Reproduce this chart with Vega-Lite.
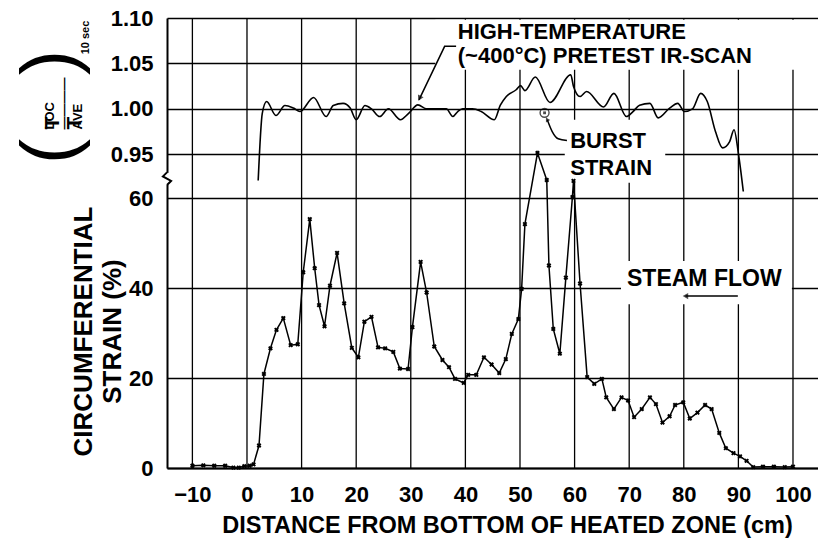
{
  "$schema": "https://vega.github.io/schema/vega-lite/v6.json",
  "width": 651,
  "height": 450,
  "autosize": {"type": "none"},
  "padding": {"left": 167, "top": 18, "right": 0, "bottom": 78},
  "background": "white",
  "config": {
    "view": {"stroke": null},
    "font": "Liberation Sans",
    "axis": {
      "labelFont": "Liberation Sans", "titleFont": "Liberation Sans",
      "labelColor": "black", "titleColor": "black",
      "labelFontWeight": "bold", "titleFontWeight": "bold",
      "gridColor": "black", "gridOpacity": 1, "domainColor": "black", "tickColor": "black"
    }
  },
  "datasets": {
    "vgrid": [
      {"x": -10}, {"x": 0}, {"x": 10}, {"x": 20}, {"x": 30}, {"x": 40},
      {"x": 50}, {"x": 60}, {"x": 70}, {"x": 80}, {"x": 90}, {"x": 100}
    ],
    "strain": [
      {"x": -10, "s": 0.5}, {"x": -8, "s": 0.6}, {"x": -6, "s": 0.5}, {"x": -4, "s": 0.5},
      {"x": -2.5, "s": 0.1}, {"x": -1.5, "s": 0.1}, {"x": -0.5, "s": 0.4}, {"x": 0.5, "s": 0.5},
      {"x": 1.2, "s": 0.8}, {"x": 2.2, "s": 5.0}, {"x": 3.1, "s": 20.9}, {"x": 4.3, "s": 26.6},
      {"x": 5.4, "s": 30.7}, {"x": 6.65, "s": 33.3}, {"x": 8.0, "s": 27.3}, {"x": 9.3, "s": 27.5},
      {"x": 10.3, "s": 43.5}, {"x": 11.5, "s": 55.3}, {"x": 12.4, "s": 44.4}, {"x": 13.2, "s": 36.2},
      {"x": 14.2, "s": 31.5}, {"x": 15.2, "s": 40.5}, {"x": 16.5, "s": 47.8}, {"x": 17.8, "s": 36.6},
      {"x": 19.2, "s": 26.7}, {"x": 20.4, "s": 24.6}, {"x": 21.5, "s": 32.5}, {"x": 22.8, "s": 33.6},
      {"x": 24.0, "s": 26.8}, {"x": 25.3, "s": 26.6}, {"x": 26.8, "s": 25.8}, {"x": 28.0, "s": 22.1},
      {"x": 29.5, "s": 22.0}, {"x": 30.3, "s": 31.3}, {"x": 31.8, "s": 45.8}, {"x": 32.9, "s": 39.0},
      {"x": 34.3, "s": 27.0}, {"x": 35.8, "s": 24.0}, {"x": 37.0, "s": 22.4}, {"x": 38.1, "s": 19.8},
      {"x": 39.7, "s": 18.9}, {"x": 40.5, "s": 20.7}, {"x": 42.0, "s": 20.7}, {"x": 43.4, "s": 24.6},
      {"x": 44.8, "s": 23.0}, {"x": 46.2, "s": 21.1}, {"x": 47.4, "s": 24.2}, {"x": 48.5, "s": 29.8},
      {"x": 49.7, "s": 33.1}, {"x": 50.3, "s": 39.8}, {"x": 50.9, "s": 54.2}, {"x": 53.2, "s": 70.0},
      {"x": 54.9, "s": 64.0}, {"x": 55.3, "s": 45.0}, {"x": 56.1, "s": 30.9}, {"x": 57.3, "s": 25.4},
      {"x": 58.4, "s": 42.3}, {"x": 59.6, "s": 60.2}, {"x": 59.8, "s": 63.8}, {"x": 61.0, "s": 41.0},
      {"x": 62.3, "s": 20.2}, {"x": 63.6, "s": 18.7}, {"x": 65.0, "s": 19.8}, {"x": 65.8, "s": 15.7},
      {"x": 67.2, "s": 13.1}, {"x": 68.6, "s": 15.7}, {"x": 69.8, "s": 15.0}, {"x": 70.9, "s": 11.3},
      {"x": 72.3, "s": 13.1}, {"x": 73.8, "s": 15.7}, {"x": 74.9, "s": 14.2}, {"x": 76.1, "s": 10.1},
      {"x": 77.4, "s": 11.5}, {"x": 78.4, "s": 14.0}, {"x": 79.9, "s": 14.6}, {"x": 81.1, "s": 11.0},
      {"x": 82.5, "s": 12.3}, {"x": 83.9, "s": 14.0}, {"x": 85.1, "s": 13.1}, {"x": 86.5, "s": 7.8},
      {"x": 87.7, "s": 4.4}, {"x": 89.1, "s": 3.3}, {"x": 90.3, "s": 2.6}, {"x": 91.5, "s": 1.6},
      {"x": 92.7, "s": 0.2}, {"x": 94.5, "s": 0.3}, {"x": 96.5, "s": 0.3}, {"x": 98.5, "s": 0.2},
      {"x": 100, "s": 0.3}
    ],
    "ratio": [
      {"x": 2.05, "r": 0.921}, {"x": 2.8, "r": 0.995}, {"x": 3.6, "r": 1.008}, {"x": 5.3, "r": 0.9926},
      {"x": 6.95, "r": 1.0036}, {"x": 8.5, "r": 1.0008}, {"x": 9.7, "r": 0.997}, {"x": 12.2, "r": 1.0125},
      {"x": 14.5, "r": 0.9915}, {"x": 15.8, "r": 1.0036}, {"x": 17.6, "r": 1.006}, {"x": 18.9, "r": 1.0008},
      {"x": 20.0, "r": 0.988}, {"x": 21.6, "r": 1.0036}, {"x": 22.8, "r": 1.0}, {"x": 24.3, "r": 0.9915},
      {"x": 25.9, "r": 1.0}, {"x": 28.1, "r": 0.988}, {"x": 29.6, "r": 0.995}, {"x": 31.3, "r": 1.0044},
      {"x": 32.9, "r": 1.0}, {"x": 34.7, "r": 1.0}, {"x": 36.5, "r": 1.0}, {"x": 37.7, "r": 0.9915},
      {"x": 38.6, "r": 0.997}, {"x": 39.5, "r": 1.0}, {"x": 41.3, "r": 1.0}, {"x": 42.9, "r": 0.997},
      {"x": 45.3, "r": 0.988}, {"x": 46.4, "r": 1.004}, {"x": 47.5, "r": 1.0136}, {"x": 49.3, "r": 1.021},
      {"x": 50.1, "r": 1.0255}, {"x": 50.9, "r": 1.02}, {"x": 52.8, "r": 1.035}, {"x": 55.5, "r": 1.007},
      {"x": 59.3, "r": 1.0375}, {"x": 59.8, "r": 1.0247}, {"x": 61.0, "r": 1.0136}, {"x": 62.2, "r": 1.019},
      {"x": 65.3, "r": 1.002}, {"x": 67.2, "r": 1.017}, {"x": 69.5, "r": 0.9915}, {"x": 70.7, "r": 0.997},
      {"x": 71.9, "r": 1.004}, {"x": 73.8, "r": 1.006}, {"x": 75.3, "r": 0.99}, {"x": 77.4, "r": 1.0008},
      {"x": 78.9, "r": 1.006}, {"x": 80.1, "r": 0.997}, {"x": 81.6, "r": 1.0}, {"x": 83.1, "r": 1.017},
      {"x": 84.3, "r": 1.008}, {"x": 85.8, "r": 0.975}, {"x": 87.1, "r": 0.957}, {"x": 88.4, "r": 0.964},
      {"x": 89.2, "r": 0.977}, {"x": 90.0, "r": 0.951}, {"x": 90.9, "r": 0.909}
    ],
    "boxR": [
      {"x": 34.5, "x2": 106, "r": 1.0982, "r2": 1.043},
      {"x": 58.2, "x2": 76.6, "r": 0.988, "r2": 0.9185}
    ],
    "textR": [
      {"x": 38.6, "r": 1.0765, "t": "HIGH-TEMPERATURE"},
      {"x": 38.6, "r": 1.0502, "t": "(~400°C) PRETEST IR-SCAN"},
      {"x": 59.2, "r": 0.957, "t": "BURST"},
      {"x": 59.2, "r": 0.927, "t": "STRAIN"}
    ],
    "htLeader": [
      {"x": 38.3, "r": 1.0688, "o": 1}, {"x": 36.2, "r": 1.0688, "o": 2}, {"x": 31.5, "r": 1.0099, "o": 3}
    ],
    "htHead": [{"x": 31.6, "r": 1.0115}],
    "burstMark": [{"x": 54.5, "r": 0.9956}],
    "burstLeader": [
      {"x": 55.0, "r": 0.988}, {"x": 55.9, "r": 0.975}, {"x": 57.0, "r": 0.967}, {"x": 58.6, "r": 0.965}
    ],
    "burstHead": [{"x": 54.95, "r": 0.9885}],
    "boxS": [{"x": 68.5, "x2": 99.8, "s": 46, "s2": 36.4}],
    "textS": [{"x": 69.6, "s": 40.4, "t": "STEAM FLOW"}],
    "steamArrow": [{"x": 80.3, "s": 38.2}, {"x": 89.9, "s": 38.2}],
    "steamHead": [{"x": 80.3, "s": 38.2}],
    "axisBreak": [
      {"x": -14.65, "s": 65.7, "o": 1}, {"x": -15.4, "s": 64.8, "o": 2},
      {"x": -13.9, "s": 63.8, "o": 3}, {"x": -14.65, "s": 62.9, "o": 4}
    ],
    "anchor": [{"x": 0, "v": 0}]
  },
  "encoding": {
    "x": {
      "field": "x", "type": "quantitative",
      "scale": {"domain": [-14.65, 104.58], "nice": false, "zero": false},
      "axis": {
        "values": [-10, 0, 10, 20, 30, 40, 50, 60, 70, 80, 90, 100],
        "grid": false, "domainWidth": 2.2, "ticks": false,
        "labelFontSize": 22, "labelPadding": 16, "labelFlush": false,
        "title": "DISTANCE FROM BOTTOM OF HEATED ZONE (cm)",
        "titleFontSize": 23.5, "titlePadding": 8, "titleX": 340
      }
    }
  },
  "layer": [
    {
      "data": {"name": "vgrid"},
      "mark": {"type": "rule", "color": "black", "strokeWidth": 1.3},
      "encoding": {}
    },
    {
      "encoding": {
        "y": {
          "field": "r", "type": "quantitative",
          "scale": {"domain": [0.93, 1.10], "range": [154.4, 0], "nice": false, "zero": false},
          "axis": {
            "orient": "left", "values": [0.95, 1.0, 1.05, 1.1], "format": ".2f",
            "grid": true, "gridWidth": 1.3, "domainWidth": 2, "ticks": false,
            "labelFontSize": 22, "labelPadding": 14,
            "title": ["T", "T"], "titleFontSize": 21, "titleAngle": 270,
            "titleAlign": "left", "titleBaseline": "middle", "titleLineHeight": 22,
            "titleX": -115, "titleY": 111
          }
        }
      },
      "layer": [
        {"data": {"name": "boxR"}, "mark": {"type": "rect", "color": "white"},
         "encoding": {"x2": {"field": "x2"}, "y2": {"field": "r2"}}},
        {"data": {"name": "ratio"}, "mark": {"type": "line", "color": "black", "strokeWidth": 1.6, "interpolate": "monotone"}},
        {"data": {"name": "htLeader"}, "mark": {"type": "line", "color": "black", "strokeWidth": 1.5},
         "encoding": {"order": {"field": "o"}}},
        {"data": {"name": "htHead"}, "mark": {"type": "point", "shape": "triangle-up", "angle": 207, "filled": true, "size": 40, "color": "black"}},
        {"data": {"name": "burstMark"}, "mark": {"type": "point", "shape": "circle", "filled": false, "size": 80, "color": "black", "strokeWidth": 1.4}},
        {"data": {"name": "burstMark"}, "mark": {"type": "point", "shape": "square", "filled": true, "size": 8, "color": "black"}},
        {"data": {"name": "burstLeader"}, "mark": {"type": "line", "color": "black", "strokeWidth": 1.5, "interpolate": "monotone"}},
        {"data": {"name": "burstHead"}, "mark": {"type": "point", "shape": "triangle-up", "angle": 330, "filled": true, "size": 25, "color": "black"}},
        {"data": {"name": "textR"}, "mark": {"type": "text", "align": "left", "baseline": "alphabetic", "fontSize": 22, "fontWeight": "bold", "font": "Liberation Sans", "color": "black"},
         "encoding": {"text": {"field": "t"}}}
      ]
    },
    {
      "encoding": {
        "y": {
          "field": "s", "type": "quantitative",
          "scale": {"domain": [0, 63], "range": [450, 166.5], "nice": false, "zero": false},
          "axis": {
            "orient": "left", "values": [0, 20, 40, 60],
            "grid": true, "gridWidth": 1.3, "domainWidth": 2, "ticks": false,
            "labelFontSize": 22, "labelPadding": 14,
            "title": ["CIRCUMFERENTIAL", "STRAIN (%)"], "titleFontSize": 26, "titleAngle": 270,
            "titleAlign": "center", "titleBaseline": "middle", "titleLineHeight": 29,
            "titleX": -84, "titleY": 313
          }
        }
      },
      "layer": [
        {"data": {"name": "boxS"}, "mark": {"type": "rect", "color": "white"},
         "encoding": {"x2": {"field": "x2"}, "y2": {"field": "s2"}}},
        {"data": {"name": "axisBreak"}, "mark": {"type": "line", "color": "black", "strokeWidth": 2},
         "encoding": {"order": {"field": "o"}}},
        {"data": {"name": "strain"}, "mark": {"type": "line", "color": "black", "strokeWidth": 1.5}},
        {"data": {"name": "strain"}, "mark": {"type": "point", "shape": "cross", "angle": 45, "filled": true, "size": 24, "color": "black", "opacity": 1}},
        {"data": {"name": "steamArrow"}, "mark": {"type": "line", "color": "black", "strokeWidth": 1.5}},
        {"data": {"name": "steamHead"}, "mark": {"type": "point", "shape": "triangle-left", "filled": true, "size": 40, "color": "black"}},
        {"data": {"name": "textS"}, "mark": {"type": "text", "align": "left", "baseline": "alphabetic", "fontSize": 23, "fontWeight": "bold", "font": "Liberation Sans", "color": "black"},
         "encoding": {"text": {"field": "t"}}}
      ]
    },
    {
      "data": {"name": "anchor"},
      "mark": {"type": "point", "opacity": 0},
      "encoding": {
        "y": {
          "field": "v", "type": "quantitative", "scale": {"domain": [0, 1], "range": [450, 0]},
          "axis": {
            "orient": "left", "labels": false, "ticks": false, "domain": false, "grid": false,
            "title": ["\u00a0\u00a0\u00a0\u00a0\u00a0LOC", "――――", "\u00a0\u00a0\u00a0\u00a0\u00a0AVE"],
            "titleFontSize": 13, "titleAngle": 270, "titleAlign": "left", "titleBaseline": "middle",
            "titleLineHeight": 14, "titleX": -118, "titleY": 111
          }
        }
      }
    },
    {
      "data": {"name": "anchor"},
      "mark": {"type": "point", "opacity": 0},
      "encoding": {
        "y": {
          "field": "v", "type": "quantitative", "scale": {"domain": [0, 1], "range": [450, 0]},
          "axis": {
            "orient": "left", "labels": false, "ticks": false, "domain": false, "grid": false,
            "title": "(\u00a0\u00a0\u00a0)", "titleFontSize": 76, "titleFontWeight": "normal",
            "titleAngle": 270, "titleAlign": "center", "titleBaseline": "middle",
            "titleX": -117, "titleY": 88.5
          }
        }
      }
    },
    {
      "data": {"name": "anchor"},
      "mark": {"type": "point", "opacity": 0},
      "encoding": {
        "y": {
          "field": "v", "type": "quantitative", "scale": {"domain": [0, 1], "range": [450, 0]},
          "axis": {
            "orient": "left", "labels": false, "ticks": false, "domain": false, "grid": false,
            "title": "10 sec", "titleFontSize": 11,
            "titleAngle": 270, "titleAlign": "center", "titleBaseline": "middle",
            "titleX": -82, "titleY": 19
          }
        }
      }
    }
  ],
  "resolve": {"scale": {"y": "independent"}, "axis": {"y": "independent"}}
}
